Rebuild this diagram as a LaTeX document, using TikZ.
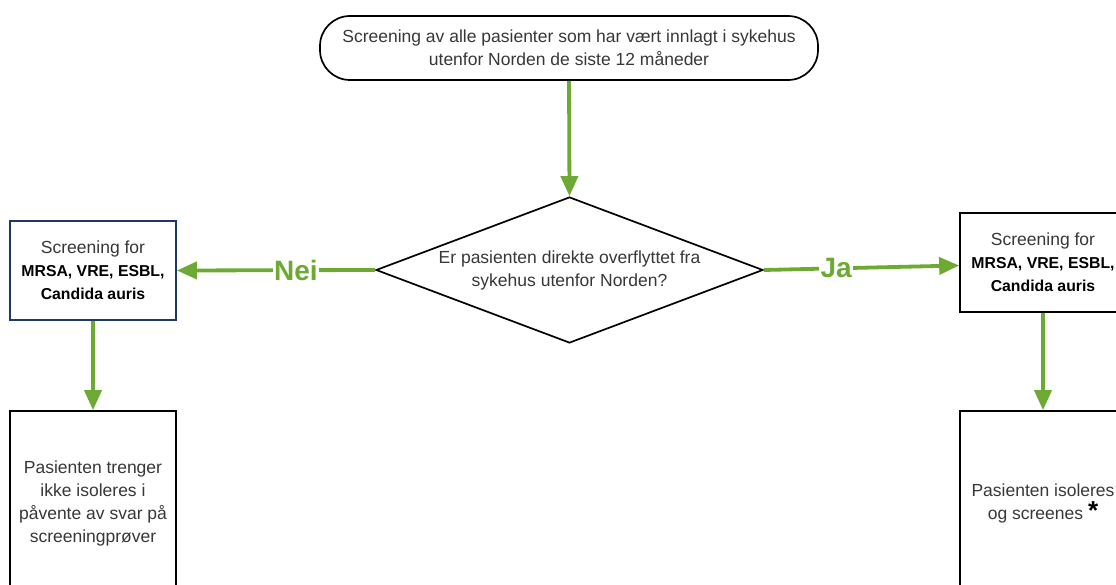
\documentclass[tikz,border=0pt]{standalone}
\usepackage{fontspec}
\setmainfont{Liberation Sans}
\usetikzlibrary{shapes.geometric,arrows.meta}
\definecolor{flowgreen}{RGB}{108,170,52}
\definecolor{txtgray}{RGB}{55,55,55}
\definecolor{boxblue}{RGB}{31,56,100}
\newcommand{\bk}[1]{\textbf{\textcolor{black}{\fontsize{15.8}{23}\selectfont #1}}}
\tikzset{
  every node/.style={font=\fontsize{17.5}{23}\selectfont, text=txtgray},
  stadium/.style={draw=black, line width=1.7pt, rounded corners=30pt, minimum width=498pt, minimum height=64pt, align=center},
  decision/.style={diamond, draw=black, line width=1.7pt, minimum width=387pt, minimum height=146pt, inner sep=0pt, aspect=2.65},
  scrbox/.style={draw=black, line width=1.7pt, minimum width=166pt, minimum height=99pt, align=center},
  outbox/.style={draw=black, line width=1.7pt, minimum width=166pt, minimum height=184pt, align=center},
  flow/.style={draw=flowgreen, line width=3.8pt, -{Triangle[length=20pt,width=17pt]}},
  yesno/.style={font=\fontsize{28}{30}\selectfont\bfseries, text=flowgreen, fill=white, inner sep=1.5pt}
}
\begin{document}
\begin{tikzpicture}[x=1pt,y=-1pt]
\useasboundingbox (0,0) rectangle (1116,585);
\clip (0,0) rectangle (1116,585);
\node[stadium] (top) at (569,48) {Screening av alle pasienter som har vært innlagt i sykehus\\utenfor Norden de siste 12 måneder};
\node[decision] (dec) at (569.5,270) {};
\node[align=center] (dectxt) at (569.5,270) {Er pasienten direkte overflyttet fra\\sykehus utenfor Norden?};
\node[scrbox, draw=boxblue] (lscr) at (93,270.5) {Screening for\\\bk{MRSA, VRE, ESBL,}\\\bk{Candida auris}};
\node[scrbox] (rscr) at (1043,262.5) {Screening for\\\bk{MRSA, VRE, ESBL,}\\\bk{Candida auris}};
\node[outbox] (lout) at (93,503) {Pasienten trenger\\ikke isoleres i\\påvente av svar på\\screeningprøver};
\node[outbox] (rout) at (1043,503) {Pasienten isoleres\\og screenes \textbf{\textcolor{black}{\fontsize{26}{23}\selectfont *}}};
\draw[flow] (top.south) -- (dec.north);
\draw[flow] (dec.west) -- node[yesno, pos=0.4] {Nei} (lscr.east);
\draw[flow] (dec.east) -- node[yesno, pos=0.37] {Ja} ([yshift=-3pt]rscr.west);
\draw[flow] (lscr.south) -- (lout.north);
\draw[flow] (rscr.south) -- (rout.north);
\end{tikzpicture}
\end{document}
